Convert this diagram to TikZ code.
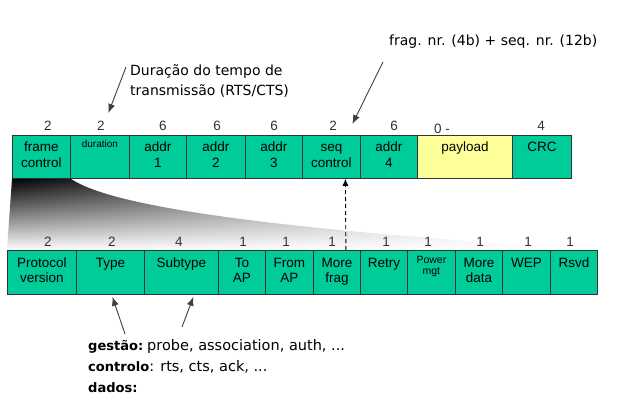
\documentclass[tikz,border=0pt]{standalone}
\usepackage{fontspec}
\setmainfont{Liberation Sans}
\newfontfamily\notefont[BoldFeatures={Scale=0.9}]{DejaVu Sans}
\usetikzlibrary{arrows.meta,calc,fadings}

\definecolor{fieldgreen}{RGB}{0,204,153}
\definecolor{payyellow}{RGB}{255,255,153}
\definecolor{linegray}{RGB}{51,51,51}

\tikzfading[name=zoomfade, left color=transparent!0, right color=transparent!100]

% text of a field, hung from the top of its box
\newcommand{\fld}[2][16.5pt]{\begin{tabular}[t]{@{}c@{}}#2\end{tabular}\rule[\dimexpr#1-43pt\relax]{0pt}{43pt}}

\tikzset{
  field/.style = {draw=linegray, line width=0.8pt, fill=fieldgreen, anchor=north west,
                  inner xsep=0pt, inner ysep=0pt, minimum height=43pt,
                  font=\fontsize{13.5}{15.5}\selectfont},
  num/.style = {text=black!80, inner sep=0pt, font=\fontsize{13.5}{16}\selectfont},
  note/.style = {anchor=north west, inner sep=0pt, align=left,
                 font=\notefont\fontsize{14}{20.5}\selectfont},
  pointer/.style = {draw=black!75, line width=0.9pt, -{Latex[length=9pt,width=7pt]}}
}

\begin{document}
\begin{tikzpicture}[x=1pt, y=-1pt]
          \fill[white] (0,0) rectangle (636,403);
          \useasboundingbox (0,0) rectangle (636,403);

          % frame header
          \node[field, minimum width=58pt] (fc) at (12,135) {\fld{frame\\control}};
          \node[field, minimum width=59pt] (dur) at (70,135) {{\fontsize{10}{10}\selectfont\fld[12pt]{duration}}};
          \node[field, minimum width=57pt] (a1) at (129,135) {\fld{addr\\1}};
          \node[field, minimum width=59pt] (a2) at (186,135) {\fld{addr\\2}};
          \node[field, minimum width=57pt] (a3) at (245,135) {\fld{addr\\3}};
          \node[field, minimum width=58pt] (seq) at (302,135) {\fld{seq\\control}};
          \node[field, minimum width=57pt] (a4) at (360,135) {\fld{addr\\4}};
          \node[field, minimum width=95pt, fill=payyellow] (pay) at (417,135) {\fld{payload}};
          \node[field, minimum width=59pt] (crc) at (512,135) {\fld{CRC}};

          % frame control bits
          \node[field, minimum width=69pt, minimum height=44pt] (pv) at (7,250) {\fld{Protocol\\version}};
          \node[field, minimum width=68pt, minimum height=44pt] (type) at (76,250) {\fld{Type}};
          \node[field, minimum width=74pt, minimum height=44pt] (sub) at (144,250) {\fld{Subtype}};
          \node[field, minimum width=47pt, minimum height=44pt] (toap) at (218,250) {\fld{To\\AP}};
          \node[field, minimum width=48pt, minimum height=44pt] (fromap) at (265,250) {\fld{From\\AP}};
          \node[field, minimum width=47pt, minimum height=44pt] (mfrag) at (313,250) {\fld{More\\frag}};
          \node[field, minimum width=47pt, minimum height=44pt] (retry) at (360,250) {\fld{Retry}};
          \node[field, minimum width=48pt, minimum height=44pt] (pwr) at (407,250) {{\fontsize{10.5}{10.5}\selectfont\fld[13pt]{Power\\mgt}}};
          \node[field, minimum width=47pt, minimum height=44pt] (mdata) at (455,250) {\fld{More\\data}};
          \node[field, minimum width=48pt, minimum height=44pt] (wep) at (502,250) {\fld{WEP}};
          \node[field, minimum width=47pt, minimum height=44pt] (rsvd) at (550,250) {\fld{Rsvd}};

          % zoom from frame control down to its bits
          \shade[top color=black, bottom color=white, path fading=zoomfade]
            (fc.south west) -- (fc.south east) .. controls (110,205) and (250,228) .. (rsvd.north east)
            -- (pv.north west) -- cycle;

          % field sizes in bytes / bits
          \node[num] (nfc) at (48,126) {2};
          \node[num] (ndur) at (101,126) {2};
          \node[num] (na1) at (163,126) {6};
          \node[num] (na2) at (217,126) {6};
          \node[num] (na3) at (274,126) {6};
          \node[num] (nseq) at (333,126) {2};
          \node[num] (na4) at (394,126) {6};
          \node[num] (npay) at (442,129) {0 -};
          \node[num] (ncrc) at (541,126) {4};

          \node[num] (npv) at (48,242) {2};
          \node[num] (ntype) at (112,242) {2};
          \node[num] (nsub) at (179,242) {4};
          \node[num] (ntoap) at (243,242) {1};
          \node[num] (nfromap) at (286,242) {1};
          \node[num] (nmfrag) at (332,242) {1};
          \node[num] (nretry) at (386,242) {1};
          \node[num] (npwr) at (428,242) {1};
          \node[num] (nmdata) at (480,242) {1};
          \node[num] (nwep) at (528,242) {1};
          \node[num] (nrsvd) at (570,242) {1};

          % notes
          \node[note] (durnote) at (130,64) {Duração do tempo de\\transmissão (RTS/CTS)};
          \node[note] (fragnote) at (389,35) {frag. nr. (4b) + seq. nr. (12b)};
          \node[note, font=\notefont\fontsize{14.5}{21}\selectfont] (typenote) at (88,339)
            {\makebox[59pt][l]{\textbf{gestão:}}probe, association, auth, ...\\
             \textbf{controlo}: rts, cts, ack, ...\\
             \textbf{dados:}};

          \coordinate (durtail) at (126,67);
          \coordinate (fragtail) at (383,62);
          \coordinate (typetail) at (125,334);
          \coordinate (subtail) at (182,327);

          \draw[pointer] (durtail) -- ([xshift=8.5pt,yshift=22pt]dur.north);
          \draw[pointer] (fragtail) -- ([xshift=21pt,yshift=11pt]seq.north);
          \draw[pointer] (typetail) -- ([xshift=2pt,yshift=-2pt]type.south);
          \draw[pointer] (subtail) -- ([xshift=12pt,yshift=-2pt]sub.south);
          \draw[pointer, draw=black, dash pattern=on 4pt off 3pt, -{Latex[length=7pt,width=6pt]}]
            ([xshift=9pt]mfrag.north) -- ([xshift=14pt]seq.south);
\end{tikzpicture}
\end{document}
